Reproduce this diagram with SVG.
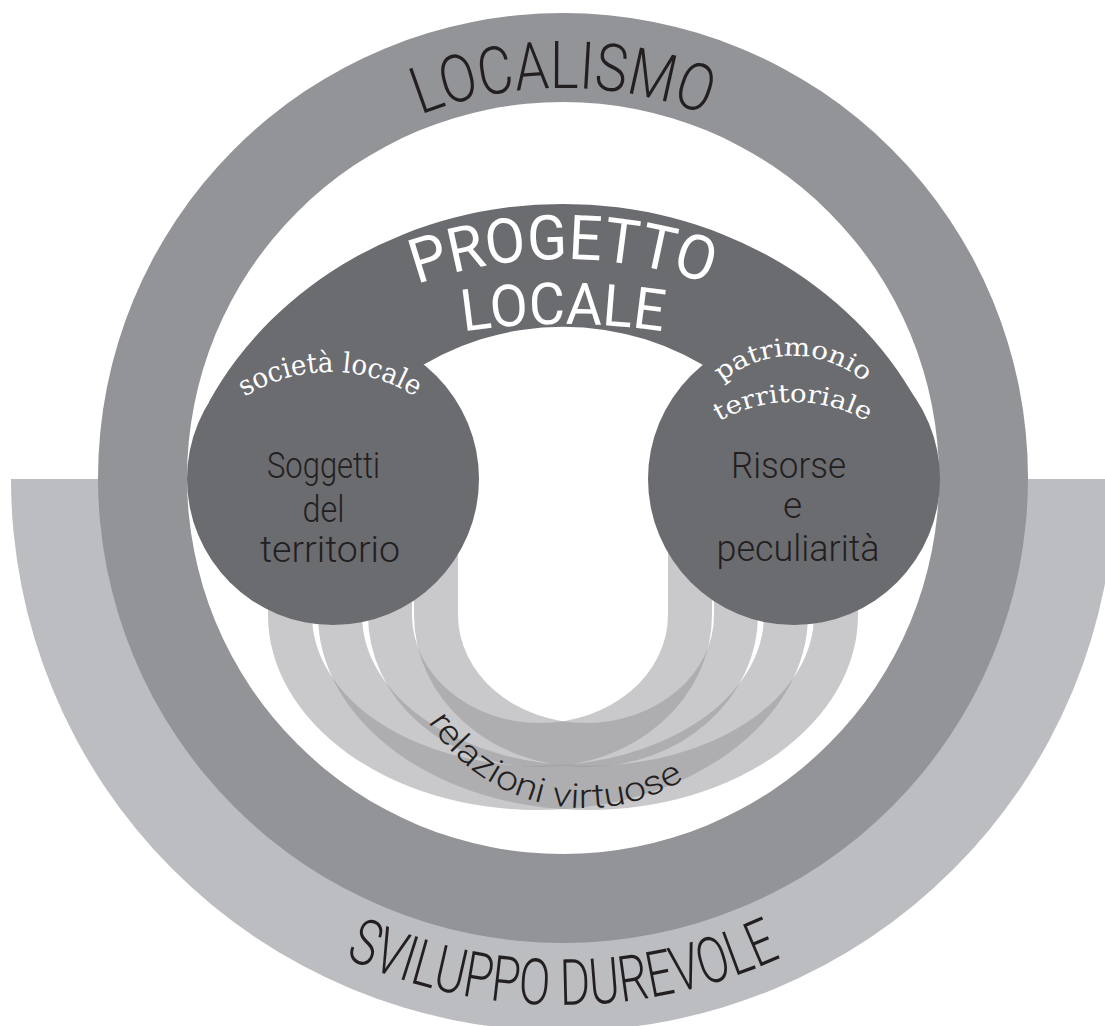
<svg xmlns="http://www.w3.org/2000/svg" xmlns:xlink="http://www.w3.org/1999/xlink" width="1105" height="1026" viewBox="0 0 1105 1026">
  <style>
    .hand { font-family: Roboto, "Liberation Sans", sans-serif; font-weight: 300; fill: #231f20; }
    .white-hand { font-family: Roboto, "Liberation Sans", sans-serif; font-weight: 400; fill: #ffffff; }
    .serif-label { font-family: "DejaVu Serif Condensed", "DejaVu Serif", "Liberation Serif", serif; fill: #ffffff; }
    .core { fill: #6b6c70; }
    .link { fill: #939497; fill-opacity: 0.5; }
  </style>
  <defs>
    <path id="p-localismo" d="M 196.5 344.6 A 390 390 0 0 1 929.5 344.6"/>
    <path id="p-sviluppo" d="M 67.8 658.2 A 527 527 0 0 0 1058.2 658.2"/>
    <path id="p-progetto" d="M 345.5 317.3 A 435 435 0 0 1 780.5 317.3"/>
    <path id="p-locale" d="M 331.1 364.9 A 678 678 0 0 1 794.9 364.9"/>
    <path id="p-societa" d="M 181.5 476 A 158 158 0 0 1 478.5 476"/>
    <path id="p-patrimonio" d="M 689.6 428.4 A 110 110 0 0 1 896.4 428.4"/>
    <path id="p-territoriale" d="M 652 500.7 A 150 150 0 0 1 934 500.7"/>
    <path id="p-relazioni" d="M 423.9 715 A 186 186 0 0 0 727.5 741.6"/>
  </defs>

  <!-- background -->
  <rect width="1105" height="1026" fill="#ffffff"/>

  <!-- sviluppo durevole: lower half band -->
  <g id="sviluppo-durevole">
    <path d="M 11 479 A 552 552 0 0 0 1115 479 Z" fill="#bcbdc0"/>
  </g>

  <!-- localismo: outer ring -->
  <g id="localismo">
    <circle cx="563" cy="478" r="465" fill="#939497"/>
    <circle cx="563" cy="478" r="376" fill="#ffffff"/>
  </g>

  <!-- relazioni virtuose: translucent U-shaped bands between the two circles -->
  <g id="connectors">
    <path class="link" d="M 268 480 L 268 615 A 270 195 0 0 0 808 615 L 808 480 L 764 480 L 764 615 A 226 151 0 0 1 312 615 L 312 480 Z"/>
    <path class="link" d="M 318 480 L 318 615 A 270 195 0 0 0 858 615 L 858 480 L 814 480 L 814 615 A 226 151 0 0 1 362 615 L 362 480 Z"/>
    <path class="link" d="M 368 480 L 368 615 A 172 152 0 0 0 712 615 L 712 480 L 668 480 L 668 615 A 128 108 0 0 1 412 615 L 412 480 Z"/>
    <path class="link" d="M 414 480 L 414 615 A 172 152 0 0 0 758 615 L 758 480 L 714 480 L 714 615 A 128 108 0 0 1 458 615 L 458 480 Z"/>
  </g>

  <!-- progetto locale: arch joining the two circles -->
  <g id="progetto-locale">
    <path class="core" d="M 209 402 A 395 356 0 0 1 917 402 L 794 479 L 720 376 A 275 275 0 0 0 406 376 L 333 479 Z"/>
  </g>

  <g id="societa-locale">
    <circle class="core" cx="333" cy="479" r="146"/>
  </g>

  <g id="patrimonio-territoriale">
    <circle class="core" cx="794" cy="479" r="146"/>
  </g>

  <!-- labels -->
  <g id="labels">
    <text class="hand" font-size="66"><textPath href="#p-localismo" startOffset="50%" text-anchor="middle" textLength="292" lengthAdjust="spacingAndGlyphs">LOCALISMO</textPath></text>
    <text class="hand" font-size="64"><textPath href="#p-sviluppo" startOffset="50%" text-anchor="middle" textLength="450" lengthAdjust="spacingAndGlyphs">SVILUPPO DUREVOLE</textPath></text>

    <text class="white-hand" font-size="62"><textPath href="#p-progetto" startOffset="50%" text-anchor="middle" textLength="298" lengthAdjust="spacingAndGlyphs">PROGETTO</textPath></text>
    <text class="white-hand" font-size="58"><textPath href="#p-locale" startOffset="50%" text-anchor="middle" textLength="200" lengthAdjust="spacingAndGlyphs">LOCALE</textPath></text>

    <text class="serif-label" font-size="28"><textPath href="#p-societa" startOffset="50%" text-anchor="middle" textLength="180" lengthAdjust="spacingAndGlyphs">società locale</textPath></text>
    <text class="serif-label" font-size="25"><textPath href="#p-patrimonio" startOffset="50%" text-anchor="middle" textLength="155" lengthAdjust="spacingAndGlyphs">patrimonio</textPath></text>
    <text class="serif-label" font-size="25"><textPath href="#p-territoriale" startOffset="50%" text-anchor="middle" textLength="155" lengthAdjust="spacingAndGlyphs">territoriale</textPath></text>

    <text class="hand" font-size="37" text-anchor="middle">
      <tspan x="328" y="478" textLength="113" lengthAdjust="spacingAndGlyphs">Soggetti</tspan>
      <tspan x="328" y="522" textLength="42" lengthAdjust="spacingAndGlyphs">del</tspan>
      <tspan x="330" y="562" textLength="140" lengthAdjust="spacingAndGlyphs">territorio</tspan>
    </text>
    <text class="hand" font-size="37" text-anchor="middle">
      <tspan x="793" y="478" textLength="115" lengthAdjust="spacingAndGlyphs">Risorse</tspan>
      <tspan x="797" y="518">e</tspan>
      <tspan x="798" y="561" textLength="163" lengthAdjust="spacingAndGlyphs">peculiarità</tspan>
    </text>

    <text class="hand" font-size="34"><textPath href="#p-relazioni" startOffset="8" textLength="291" lengthAdjust="spacingAndGlyphs">relazioni virtuose</textPath></text>
  </g>
</svg>
